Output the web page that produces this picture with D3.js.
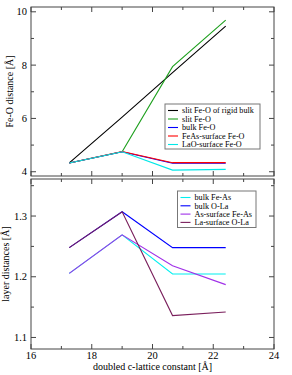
<!DOCTYPE html>
<html><head><meta charset="utf-8">
<script src="https://cdn.jsdelivr.net/npm/d3@7"></script>
<style>body{margin:0;background:#fff}svg{display:block}</style>
</head><body><svg id="c" width="292" height="375" font-family="'Liberation Serif', 'DejaVu Serif', serif"></svg>
<script>
const xVals = [17.26, 19.0, 20.66, 22.41];
const topSeries = [
  {name:"slit Fe-O of rigid bulk", color:"#000000", values:[4.33, 6.05, 7.72, 9.46]},
  {name:"slit Fe-O", color:"#1ea01e", values:[4.33, 4.75, 7.94, 9.69]},
  {name:"bulk Fe-O", color:"#0000ff", values:[4.33, 4.75, 4.32, 4.32]},
  {name:"FeAs-surface Fe-O", color:"#ff0000", values:[4.33, 4.76, 4.34, 4.34]},
  {name:"LaO-surface Fe-O", color:"#00e8e8", values:[4.33, 4.75, 4.06, 4.09]}
];
const bottomSeries = [
  {name:"bulk Fe-As", color:"#00f0f0", values:[1.2055, 1.269, 1.2045, 1.2045]},
  {name:"bulk O-La", color:"#0000ff", values:[1.248, 1.307, 1.248, 1.248]},
  {name:"As-surface Fe-As", color:"#a030e8", values:[1.2055, 1.269, 1.218, 1.187]},
  {name:"La-surface O-La", color:"#7a1f5c", values:[1.248, 1.307, 1.136, 1.142]}
];
const xTicks = [16, 18, 20, 22, 24];
const topYTicks = [4, 6, 8, 10];
const bottomYTicks = [1.1, 1.2, 1.3];

const svg = d3.select("#c");
const L = 31, R = 274;
const x = d3.scaleLinear().domain([16, 24]).range([L, R]);
const yTop = d3.scaleLinear().domain([3.84, 10.18]).range([176, 7]);
const yBot = d3.scaleLinear().domain([1.081, 1.361]).range([349, 179]);
const frameColor = "#444";

function panel(y, yTicks, yMinor, series, showX, yTitle, titleX, fmt, legend) {
  const g = svg.append("g");
  const [y0, y1] = y.range();
  const line = d3.line().x((d,i)=>x(xVals[i])).y(d=>y(d));
  g.append("g").selectAll("path").data(series).join("path")
    .attr("d", d=>line(d.values)).attr("fill","none")
    .attr("stroke", d=>d.color).attr("stroke-width",1.1);
  g.append("rect").attr("x",L).attr("y",y1).attr("width",R-L).attr("height",y0-y1)
    .attr("fill","none").attr("stroke",frameColor).attr("stroke-width",1);
  const xMinor = d3.range(17, 24, 2);
  const tk = g.append("g").attr("stroke",frameColor).attr("stroke-width",1);
  xTicks.forEach(t=>{
    tk.append("line").attr("x1",x(t)).attr("x2",x(t)).attr("y1",y0).attr("y2",y0-5);
    tk.append("line").attr("x1",x(t)).attr("x2",x(t)).attr("y1",y1).attr("y2",y1+5);
  });
  xMinor.forEach(t=>{
    tk.append("line").attr("x1",x(t)).attr("x2",x(t)).attr("y1",y0).attr("y2",y0-3);
    tk.append("line").attr("x1",x(t)).attr("x2",x(t)).attr("y1",y1).attr("y2",y1+3);
  });
  yTicks.forEach(t=>{
    tk.append("line").attr("x1",L).attr("x2",L+5).attr("y1",y(t)).attr("y2",y(t));
    tk.append("line").attr("x1",R).attr("x2",R-5).attr("y1",y(t)).attr("y2",y(t));
  });
  yMinor.forEach(t=>{
    tk.append("line").attr("x1",L).attr("x2",L+3).attr("y1",y(t)).attr("y2",y(t));
    tk.append("line").attr("x1",R).attr("x2",R-3).attr("y1",y(t)).attr("y2",y(t));
  });
  g.append("g").selectAll("text").data(yTicks).join("text")
    .attr("x",L-4).attr("y",d=>y(d)+3.5).attr("text-anchor","end")
    .attr("font-size",10.5).text(fmt);
  if (showX) {
    g.append("g").selectAll("text").data(xTicks).join("text")
      .attr("x",d=>x(d)).attr("y",y0+10).attr("text-anchor","middle")
      .attr("font-size",10.5).text(d=>d);
  }
  g.append("text").attr("transform",`translate(${titleX},${(y0+y1)/2}) rotate(-90)`)
    .attr("text-anchor","middle").attr("font-size",10).text(yTitle);
  const lg = g.append("g");
  lg.append("rect").attr("x",legend.x).attr("y",legend.y).attr("width",legend.w).attr("height",legend.h)
    .attr("fill","#fff").attr("stroke","#777").attr("stroke-width",1);
  series.forEach((s,i)=>{
    const yy = legend.y + 6.5 + i*legend.dy;
    lg.append("line").attr("x1",legend.x+3).attr("x2",legend.x+13).attr("y1",yy).attr("y2",yy)
      .attr("stroke",s.color).attr("stroke-width",1.1);
    lg.append("text").attr("x",legend.x+17).attr("y",yy+2.8).attr("font-size",8.2).text(s.name);
  });
}
panel(yTop, topYTicks, [5,7,9], topSeries, false, "Fe-O distance [Å]", 13, d=>d,
  {x:165, y:104, w:95, h:45, dy:8.5});
panel(yBot, bottomYTicks, [1.15,1.25,1.35], bottomSeries, true, "layer distances [Å]", 9, d=>d.toFixed(1),
  {x:177.5, y:191, w:78.5, h:36.5, dy:8.3});
svg.append("text").attr("x",(L+R)/2).attr("y",370).attr("text-anchor","middle")
  .attr("font-size",10).text("doubled c-lattice constant [Å]");
</script></body></html>
